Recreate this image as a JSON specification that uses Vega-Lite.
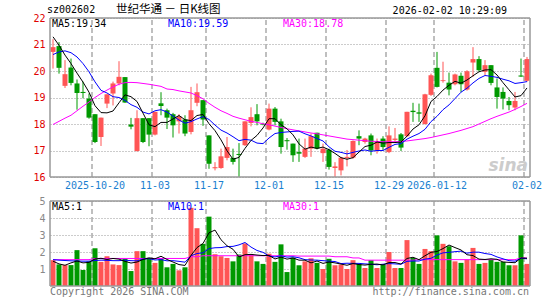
{
"$schema":"https://vega.github.io/schema/vega-lite/v6.json",
"width":480,"height":268,
"autosize":{"type":"none"},
"padding":{"left":50,"top":18,"right":15,"bottom":14},
"background":"white",
"config":{"view":{"stroke":null},"text":{"font":"DejaVu Sans Mono","fontSize":10}},
"data":{"values":[
{"d":"2025-10-09","o":20.72,"h":21.2,"l":20.09,"c":20.9,"v":1.52,"m5":21.29,"m10":20.62,"m30":17.98,"vm5":1.46,"vm10":1.55,"vm30":1.55},
{"d":"2025-10-10","o":20.94,"h":21.09,"l":19.9,"c":20.12,"v":1.27,"m5":20.97,"m10":20.72,"m30":18.1,"vm5":1.3,"vm10":1.52,"vm30":1.55},
{"d":"2025-10-13","o":19.44,"h":20.41,"l":19.36,"c":19.88,"v":1.23,"m5":20.6,"m10":20.76,"m30":18.22,"vm5":1.22,"vm10":1.5,"vm30":1.55},
{"d":"2025-10-14","o":20.13,"h":20.47,"l":19.46,"c":19.55,"v":1.23,"m5":20.28,"m10":20.69,"m30":18.33,"vm5":1.36,"vm10":1.48,"vm30":1.55},
{"d":"2025-10-15","o":19.53,"h":19.68,"l":18.54,"c":19.17,"v":2.11,"m5":19.92,"m10":20.53,"m30":18.5,"vm5":1.47,"vm10":1.47,"vm30":1.55},
{"d":"2025-10-16","o":19.21,"h":19.6,"l":18.97,"c":19.17,"v":0.94,"m5":19.58,"m10":20.28,"m30":18.67,"vm5":1.36,"vm10":1.46,"vm30":1.55},
{"d":"2025-10-17","o":18.96,"h":19.15,"l":18.2,"c":18.24,"v":1.45,"m5":19.2,"m10":19.97,"m30":18.83,"vm5":1.39,"vm10":1.46,"vm30":1.55},
{"d":"2025-10-20","o":18.37,"h":18.37,"l":17.28,"c":17.32,"v":2.22,"m5":18.69,"m10":19.59,"m30":19.0,"vm5":1.59,"vm10":1.5,"vm30":1.62},
{"d":"2025-10-21","o":17.51,"h":18.24,"l":17.17,"c":18.24,"v":1.42,"m5":18.43,"m10":19.27,"m30":19.15,"vm5":1.63,"vm10":1.52,"vm30":1.62},
{"d":"2025-10-22","o":18.77,"h":19.12,"l":18.6,"c":19.12,"v":1.75,"m5":18.42,"m10":19.17,"m30":19.28,"vm5":1.56,"vm10":1.51,"vm30":1.62},
{"d":"2025-10-23","o":19.15,"h":19.6,"l":18.7,"c":19.53,"v":1.27,"m5":18.49,"m10":19.03,"m30":19.4,"vm5":1.62,"vm10":1.49,"vm30":1.62},
{"d":"2025-10-24","o":19.53,"h":20.37,"l":19.46,"c":19.78,"v":1.23,"m5":18.8,"m10":19.0,"m30":19.5,"vm5":1.58,"vm10":1.49,"vm30":1.62},
{"d":"2025-10-27","o":19.77,"h":19.77,"l":18.8,"c":18.81,"v":1.6,"m5":19.1,"m10":18.89,"m30":19.56,"vm5":1.45,"vm10":1.52,"vm30":1.62},
{"d":"2025-10-28","o":17.98,"h":18.23,"l":17.8,"c":17.9,"v":0.88,"m5":19.03,"m10":18.73,"m30":19.57,"vm5":1.35,"vm10":1.49,"vm30":1.62},
{"d":"2025-10-29","o":16.98,"h":18.52,"l":16.96,"c":18.22,"v":2.05,"m5":18.85,"m10":18.63,"m30":19.56,"vm5":1.41,"vm10":1.48,"vm30":1.62},
{"d":"2025-10-30","o":18.22,"h":18.22,"l":17.28,"c":17.32,"v":2.05,"m5":18.41,"m10":18.45,"m30":19.53,"vm5":1.56,"vm10":1.59,"vm30":1.62},
{"d":"2025-10-31","o":18.22,"h":18.22,"l":17.16,"c":17.6,"v":1.66,"m5":17.97,"m10":18.38,"m30":19.5,"vm5":1.65,"vm10":1.61,"vm30":1.62},
{"d":"2025-11-03","o":17.6,"h":18.46,"l":17.57,"c":18.46,"v":1.36,"m5":17.9,"m10":18.5,"m30":19.46,"vm5":1.6,"vm10":1.53,"vm30":1.62},
{"d":"2025-11-04","o":18.78,"h":19.2,"l":18.33,"c":18.68,"v":1.62,"m5":18.06,"m10":18.54,"m30":19.42,"vm5":1.75,"vm10":1.55,"vm30":1.62},
{"d":"2025-11-05","o":18.52,"h":18.58,"l":17.81,"c":18.24,"v":1.1,"m5":18.06,"m10":18.45,"m30":19.32,"vm5":1.56,"vm10":1.48,"vm30":1.62},
{"d":"2025-11-06","o":18.37,"h":18.42,"l":17.49,"c":17.95,"v":1.3,"m5":18.19,"m10":18.3,"m30":19.3,"vm5":1.41,"vm10":1.49,"vm30":1.62},
{"d":"2025-11-07","o":18.1,"h":18.37,"l":17.64,"c":18.29,"v":0.92,"m5":18.32,"m10":18.15,"m30":19.25,"vm5":1.26,"vm10":1.45,"vm30":1.62},
{"d":"2025-11-10","o":18.17,"h":18.33,"l":17.54,"c":17.64,"v":1.1,"m5":18.16,"m10":18.03,"m30":19.21,"vm5":1.21,"vm10":1.4,"vm30":1.62},
{"d":"2025-11-11","o":17.7,"h":19.4,"l":17.61,"c":18.52,"v":4.6,"m5":18.13,"m10":18.09,"m30":19.17,"vm5":1.8,"vm10":1.78,"vm30":1.72},
{"d":"2025-11-12","o":18.8,"h":19.53,"l":18.67,"c":19.2,"v":3.4,"m5":18.32,"m10":18.19,"m30":19.07,"vm5":2.26,"vm10":1.91,"vm30":1.72},
{"d":"2025-11-13","o":18.9,"h":18.9,"l":17.93,"c":18.17,"v":2.48,"m5":18.36,"m10":18.28,"m30":18.95,"vm5":2.5,"vm10":1.95,"vm30":1.78},
{"d":"2025-11-17","o":17.57,"h":17.57,"l":16.31,"c":16.5,"v":4.08,"m5":18.01,"m10":18.17,"m30":18.78,"vm5":3.13,"vm10":2.2,"vm30":1.78},
{"d":"2025-11-18","o":16.33,"h":16.56,"l":16.25,"c":16.37,"v":1.87,"m5":17.75,"m10":17.96,"m30":18.63,"vm5":3.29,"vm10":2.25,"vm30":1.78},
{"d":"2025-11-19","o":16.34,"h":17.07,"l":16.31,"c":16.78,"v":1.75,"m5":17.4,"m10":17.77,"m30":18.5,"vm5":2.72,"vm10":2.26,"vm30":1.78},
{"d":"2025-11-20","o":16.72,"h":17.51,"l":16.63,"c":17.13,"v":1.65,"m5":16.99,"m10":17.66,"m30":18.4,"vm5":2.37,"vm10":2.32,"vm30":1.78},
{"d":"2025-11-21","o":16.72,"h":17.07,"l":16.47,"c":16.57,"v":1.45,"m5":16.67,"m10":17.52,"m30":18.29,"vm5":2.16,"vm10":2.33,"vm30":1.78},
{"d":"2025-11-24","o":16.87,"h":17.28,"l":16.0,"c":16.83,"v":1.85,"m5":16.74,"m10":17.37,"m30":18.22,"vm5":1.71,"vm10":2.42,"vm30":1.78},
{"d":"2025-11-25","o":17.2,"h":18.1,"l":17.17,"c":18.1,"v":2.5,"m5":17.08,"m10":17.42,"m30":18.16,"vm5":1.84,"vm10":2.56,"vm30":1.78},
{"d":"2025-11-26","o":18.04,"h":18.63,"l":17.91,"c":18.26,"v":1.86,"m5":17.38,"m10":17.39,"m30":18.1,"vm5":1.86,"vm10":2.29,"vm30":1.78},
{"d":"2025-11-27","o":18.37,"h":18.75,"l":17.95,"c":18.1,"v":1.45,"m5":17.57,"m10":17.28,"m30":18.06,"vm5":1.82,"vm10":2.09,"vm30":1.78},
{"d":"2025-11-28","o":18.0,"h":18.05,"l":17.95,"c":17.98,"v":1.3,"m5":17.85,"m10":17.26,"m30":18.01,"vm5":1.79,"vm10":1.98,"vm30":1.78},
{"d":"2025-12-01","o":17.79,"h":18.77,"l":17.76,"c":18.58,"v":1.9,"m5":18.2,"m10":17.47,"m30":17.97,"vm5":1.8,"vm10":1.76,"vm30":1.78},
{"d":"2025-12-02","o":18.58,"h":18.64,"l":17.95,"c":18.08,"v":1.42,"m5":18.2,"m10":17.64,"m30":17.92,"vm5":1.59,"vm10":1.71,"vm30":1.78},
{"d":"2025-12-03","o":18.1,"h":18.2,"l":16.88,"c":17.13,"v":2.45,"m5":17.97,"m10":17.68,"m30":17.87,"vm5":1.7,"vm10":1.78,"vm30":1.78},
{"d":"2025-12-04","o":17.39,"h":17.47,"l":17.03,"c":17.35,"v":0.82,"m5":17.82,"m10":17.7,"m30":17.82,"vm5":1.58,"vm10":1.7,"vm30":1.78},
{"d":"2025-12-05","o":17.26,"h":17.26,"l":16.57,"c":16.82,"v":1.67,"m5":17.59,"m10":17.72,"m30":17.78,"vm5":1.65,"vm10":1.72,"vm30":1.78},
{"d":"2025-12-08","o":16.94,"h":17.45,"l":16.57,"c":16.88,"v":1.22,"m5":17.25,"m10":17.73,"m30":17.74,"vm5":1.52,"vm10":1.66,"vm30":1.76},
{"d":"2025-12-09","o":16.76,"h":17.45,"l":16.72,"c":17.07,"v":1.45,"m5":17.05,"m10":17.63,"m30":17.7,"vm5":1.52,"vm10":1.55,"vm30":1.76},
{"d":"2025-12-10","o":17.07,"h":17.64,"l":16.76,"c":17.54,"v":1.63,"m5":17.13,"m10":17.55,"m30":17.66,"vm5":1.36,"vm10":1.53,"vm30":1.76},
{"d":"2025-12-11","o":17.67,"h":17.67,"l":17.04,"c":17.07,"v":1.36,"m5":17.08,"m10":17.45,"m30":17.63,"vm5":1.47,"vm10":1.52,"vm30":1.76},
{"d":"2025-12-12","o":16.9,"h":17.26,"l":16.57,"c":17.07,"v":1.0,"m5":17.13,"m10":17.36,"m30":17.59,"vm5":1.33,"vm10":1.49,"vm30":1.76},
{"d":"2025-12-15","o":17.03,"h":17.07,"l":16.28,"c":16.38,"v":1.6,"m5":17.03,"m10":17.14,"m30":17.55,"vm5":1.41,"vm10":1.46,"vm30":1.76},
{"d":"2025-12-16","o":16.34,"h":16.56,"l":16.0,"c":16.4,"v":1.22,"m5":16.89,"m10":16.97,"m30":17.51,"vm5":1.36,"vm10":1.44,"vm30":1.72},
{"d":"2025-12-17","o":16.25,"h":16.76,"l":16.06,"c":16.73,"v":1.26,"m5":16.73,"m10":16.93,"m30":17.47,"vm5":1.29,"vm10":1.32,"vm30":1.72},
{"d":"2025-12-18","o":16.72,"h":17.02,"l":16.4,"c":16.76,"v":1.0,"m5":16.67,"m10":16.87,"m30":17.43,"vm5":1.22,"vm10":1.34,"vm30":1.72},
{"d":"2025-12-19","o":16.73,"h":17.38,"l":16.69,"c":17.36,"v":1.52,"m5":16.73,"m10":16.93,"m30":17.41,"vm5":1.32,"vm10":1.33,"vm30":1.65},
{"d":"2025-12-22","o":17.54,"h":17.76,"l":17.2,"c":17.45,"v":1.3,"m5":16.94,"m10":16.98,"m30":17.39,"vm5":1.26,"vm10":1.33,"vm30":1.65},
{"d":"2025-12-23","o":17.32,"h":17.48,"l":17.26,"c":17.45,"v":1.06,"m5":17.15,"m10":17.02,"m30":17.37,"vm5":1.23,"vm10":1.3,"vm30":1.52},
{"d":"2025-12-24","o":17.57,"h":17.64,"l":16.82,"c":17.0,"v":1.52,"m5":17.2,"m10":16.97,"m30":17.35,"vm5":1.28,"vm10":1.28,"vm30":1.52},
{"d":"2025-12-25","o":17.0,"h":17.45,"l":16.88,"c":17.35,"v":1.06,"m5":17.32,"m10":17.0,"m30":17.34,"vm5":1.29,"vm10":1.25,"vm30":1.52},
{"d":"2025-12-26","o":17.45,"h":17.54,"l":17.0,"c":17.13,"v":1.26,"m5":17.28,"m10":17.0,"m30":17.33,"vm5":1.24,"vm10":1.28,"vm30":1.52},
{"d":"2025-12-29","o":16.94,"h":17.91,"l":16.9,"c":17.57,"v":2.0,"m5":17.3,"m10":17.12,"m30":17.33,"vm5":1.38,"vm10":1.32,"vm30":1.52},
{"d":"2025-12-30","o":17.4,"h":17.85,"l":17.32,"c":17.45,"v":1.06,"m5":17.3,"m10":17.23,"m30":17.33,"vm5":1.38,"vm10":1.3,"vm30":1.52},
{"d":"2025-12-31","o":17.61,"h":17.66,"l":16.98,"c":17.11,"v":1.06,"m5":17.32,"m10":17.26,"m30":17.34,"vm5":1.29,"vm10":1.28,"vm30":1.52},
{"d":"2026-01-05","o":17.54,"h":18.46,"l":17.51,"c":18.46,"v":2.7,"m5":17.54,"m10":17.43,"m30":17.36,"vm5":1.62,"vm10":1.45,"vm30":1.52},
{"d":"2026-01-06","o":18.5,"h":18.8,"l":18.08,"c":18.45,"v":1.65,"m5":17.81,"m10":17.54,"m30":17.39,"vm5":1.69,"vm10":1.47,"vm30":1.52},
{"d":"2026-01-07","o":18.44,"h":18.77,"l":18.08,"c":18.39,"v":1.3,"m5":17.97,"m10":17.64,"m30":17.42,"vm5":1.55,"vm10":1.47,"vm30":1.55},
{"d":"2026-01-08","o":18.0,"h":19.14,"l":17.98,"c":19.12,"v":2.18,"m5":18.31,"m10":17.8,"m30":17.45,"vm5":1.78,"vm10":1.58,"vm30":1.55},
{"d":"2026-01-09","o":19.1,"h":19.9,"l":19.06,"c":19.84,"v":2.05,"m5":18.85,"m10":18.09,"m30":17.49,"vm5":1.98,"vm10":1.63,"vm30":1.55},
{"d":"2026-01-12","o":20.12,"h":20.72,"l":19.38,"c":19.4,"v":2.98,"m5":19.04,"m10":18.29,"m30":17.54,"vm5":2.03,"vm10":1.82,"vm30":1.55},
{"d":"2026-01-13","o":19.62,"h":20.35,"l":19.56,"c":19.65,"v":2.48,"m5":19.28,"m10":18.54,"m30":17.59,"vm5":2.2,"vm10":1.95,"vm30":1.55},
{"d":"2026-01-14","o":19.56,"h":19.94,"l":19.08,"c":19.3,"v":2.34,"m5":19.46,"m10":18.72,"m30":17.64,"vm5":2.41,"vm10":1.98,"vm30":1.55},
{"d":"2026-01-15","o":19.5,"h":19.9,"l":19.46,"c":19.87,"v":1.45,"m5":19.61,"m10":18.96,"m30":17.7,"vm5":2.26,"vm10":2.02,"vm30":1.55},
{"d":"2026-01-16","o":19.82,"h":19.94,"l":19.21,"c":19.5,"v":1.36,"m5":19.54,"m10":19.2,"m30":17.76,"vm5":2.12,"vm10":2.05,"vm30":1.55},
{"d":"2026-01-19","o":19.3,"h":20.03,"l":19.26,"c":19.99,"v":1.55,"m5":19.66,"m10":19.35,"m30":17.83,"vm5":1.84,"vm10":1.93,"vm30":1.55},
{"d":"2026-01-20","o":20.32,"h":20.9,"l":19.78,"c":20.45,"v":2.24,"m5":19.82,"m10":19.55,"m30":17.9,"vm5":1.79,"vm10":1.99,"vm30":1.55},
{"d":"2026-01-21","o":20.45,"h":20.56,"l":19.97,"c":20.03,"v":1.3,"m5":19.97,"m10":19.72,"m30":18.0,"vm5":1.58,"vm10":1.99,"vm30":1.55},
{"d":"2026-01-22","o":19.97,"h":20.41,"l":19.84,"c":20.22,"v":1.36,"m5":20.04,"m10":19.83,"m30":18.1,"vm5":1.56,"vm10":1.91,"vm30":1.55},
{"d":"2026-01-23","o":20.22,"h":20.22,"l":19.46,"c":19.55,"v":1.55,"m5":20.05,"m10":19.8,"m30":18.2,"vm5":1.6,"vm10":1.86,"vm30":1.55},
{"d":"2026-01-26","o":19.38,"h":19.72,"l":18.58,"c":19.02,"v":1.42,"m5":19.85,"m10":19.76,"m30":18.29,"vm5":1.57,"vm10":1.71,"vm30":1.55},
{"d":"2026-01-27","o":19.21,"h":19.38,"l":18.55,"c":18.96,"v":1.42,"m5":19.56,"m10":19.69,"m30":18.37,"vm5":1.41,"vm10":1.6,"vm30":1.55},
{"d":"2026-01-28","o":18.87,"h":19.02,"l":18.52,"c":18.71,"v":1.22,"m5":19.29,"m10":19.63,"m30":18.45,"vm5":1.39,"vm10":1.49,"vm30":1.55},
{"d":"2026-01-29","o":18.62,"h":19.21,"l":18.52,"c":18.87,"v":1.22,"m5":19.02,"m10":19.53,"m30":18.55,"vm5":1.37,"vm10":1.46,"vm30":1.55},
{"d":"2026-01-30","o":19.83,"h":20.47,"l":19.78,"c":19.79,"v":2.98,"m5":19.07,"m10":19.56,"m30":18.66,"vm5":1.65,"vm10":1.63,"vm30":1.65},
{"d":"2026-02-02","o":19.63,"h":20.53,"l":19.59,"c":20.45,"v":1.3,"m5":19.36,"m10":19.6,"m30":18.78,"vm5":1.63,"vm10":1.6,"vm30":1.65}
]},
"layer":[
{"layer":[
 {"transform":[{"filter":{"field":"d","oneOf":["2025-10-20","2025-11-03","2025-11-17","2025-12-01","2025-12-15","2025-12-29","2026-01-12","2026-02-02"]}}],
  "mark":{"type":"rule","color":"#aaaaaa","strokeWidth":1.5,"strokeDash":[5,3],"xOffset":-3},
  "encoding":{"x":{"field":"d","type":"ordinal","title":null},"y":{"datum":16,"type":"quantitative"},"y2":{"datum":22}}},
 {"mark":{"type":"rule","strokeWidth":1},
  "encoding":{
   "x":{"field":"d","type":"ordinal","title":null,"scale":{"type":"band","paddingInner":0,"paddingOuter":0},
        "axis":{"values":["2025-10-20","2025-11-03","2025-11-17","2025-12-01","2025-12-15","2025-12-29","2026-01-12","2026-02-02"],
                "bandPosition":0,"orient":"bottom","offset":-109,"domain":false,"ticks":false,"tickSize":0,"grid":false,"labelAngle":0,
                "labelAlign":"center","labelBaseline":"top",
                "labelColor":"#1a7fd0","labelFont":"DejaVu Sans Mono","labelFontSize":10,"labelPadding":3,"labelOverlap":false,
                "labelExpr":"datum.value == '2025-10-20' || datum.value == '2026-01-12' ? datum.value : slice(datum.value, 5)","title":null}},
   "y":{"field":"l","type":"quantitative","title":null,"scale":{"domain":[16,22],"range":[159,0],"nice":false,"zero":false},
        "axis":{"orient":"left","values":[16,17,18,19,20,21,22],"domain":false,"ticks":false,"labelColor":"#e00000","labelFont":"DejaVu Sans Mono","labelFontSize":10,"labelPadding":5,"labelOverlap":false,"labelAlign":"right","labelBaseline":"middle","grid":true,"gridColor":"#999999","gridDash":[1,2],"gridWidth":1,"title":null}},
   "y2":{"field":"h"},
   "color":{"condition":{"test":"datum.c >= datum.o","value":"#ff5555"},"value":"#009900"}}},
 {"mark":{"type":"bar","size":5},
  "encoding":{"x":{"field":"d","type":"ordinal","title":null},"y":{"field":"o","type":"quantitative","title":null},"y2":{"field":"c"},
   "color":{"condition":{"test":"datum.c >= datum.o","value":"#ff5555"},"value":"#009900"}}},
 {"mark":{"type":"line","color":"#ff00ff","strokeWidth":1},"encoding":{"x":{"field":"d","type":"ordinal","title":null},"y":{"field":"m30","type":"quantitative","title":null}}},
 {"mark":{"type":"line","color":"#0000ff","strokeWidth":1},"encoding":{"x":{"field":"d","type":"ordinal","title":null},"y":{"field":"m10","type":"quantitative","title":null}}},
 {"mark":{"type":"line","color":"#000000","strokeWidth":1},"encoding":{"x":{"field":"d","type":"ordinal","title":null},"y":{"field":"m5","type":"quantitative","title":null}}},
 {"data":{"values":[{}]},"mark":{"type":"rule","color":"#999999","strokeWidth":1.5},"encoding":{"y":{"datum":22,"type":"quantitative"}}},
 {"data":{"values":[{}]},"mark":{"type":"rule","color":"#999999","strokeWidth":1.5},"encoding":{"y":{"datum":16,"type":"quantitative"}}},
 {"data":{"values":[{}]},"mark":{"type":"rule","color":"#999999","strokeWidth":1.5,"xOffset":-3},"encoding":{"x":{"datum":"2025-10-09","type":"ordinal"},"y":{"datum":16,"type":"quantitative"},"y2":{"datum":22}}},
 {"data":{"values":[{}]},"mark":{"type":"rule","color":"#999999","strokeWidth":1.5,"xOffset":3},"encoding":{"x":{"datum":"2026-02-02","type":"ordinal"},"y":{"datum":16,"type":"quantitative"},"y2":{"datum":22}}},
 {"data":{"values":[{}]},"mark":{"type":"text","text":"sz002602","align":"left","baseline":"middle","font":"DejaVu Sans Mono","fontSize":10,"color":"#000000","dx":-6},
  "encoding":{"x":{"datum":"2025-10-09","type":"ordinal"},"y":{"datum":22.3,"type":"quantitative"}}},
 {"data":{"values":[{}]},"mark":{"type":"text","text":"世纪华通  －  日K线图","align":"left","baseline":"middle","font":"Noto Sans CJK SC","fontSize":11.5,"color":"#000000","dx":-3},
  "encoding":{"x":{"datum":"2025-10-24","type":"ordinal"},"y":{"datum":22.3,"type":"quantitative"}}},
 {"data":{"values":[{}]},"mark":{"type":"text","text":"2026-02-02 10:29:09","align":"right","baseline":"middle","font":"DejaVu Sans Mono","fontSize":10,"color":"#000000","dx":-2},
  "encoding":{"x":{"datum":"2026-01-28","type":"ordinal"},"y":{"datum":22.28,"type":"quantitative"}}},
 {"data":{"values":[{}]},"mark":{"type":"text","text":"MA5:19.34","align":"left","baseline":"middle","font":"DejaVu Sans Mono","fontSize":10,"color":"#000000","dx":-1},
  "encoding":{"x":{"datum":"2025-10-09","type":"ordinal"},"y":{"datum":21.78,"type":"quantitative"}}},
 {"data":{"values":[{}]},"mark":{"type":"text","text":"MA10:19.59","align":"left","baseline":"middle","font":"DejaVu Sans Mono","fontSize":10,"color":"#0000ff","dx":-5},
  "encoding":{"x":{"datum":"2025-11-06","type":"ordinal"},"y":{"datum":21.78,"type":"quantitative"}}},
 {"data":{"values":[{}]},"mark":{"type":"text","text":"MA30:18.78","align":"left","baseline":"middle","font":"DejaVu Sans Mono","fontSize":10,"color":"#ff00ff","dx":-4},
  "encoding":{"x":{"datum":"2025-12-04","type":"ordinal"},"y":{"datum":21.78,"type":"quantitative"}}},
 {"data":{"values":[{}]},"mark":{"type":"text","text":"sina","align":"right","baseline":"middle","font":"DejaVu Sans","fontSize":17,"fontStyle":"italic","fontWeight":"bold","color":"#cccccc","dx":1},
  "encoding":{"x":{"datum":"2026-02-02","type":"ordinal"},"y":{"datum":16.4,"type":"quantitative"}}}
]},
{"layer":[
 {"transform":[{"filter":{"field":"d","oneOf":["2025-10-20","2025-11-03","2025-11-17","2025-12-01","2025-12-15","2025-12-29","2026-01-12","2026-02-02"]}}],
  "mark":{"type":"rule","color":"#aaaaaa","strokeWidth":1.5,"strokeDash":[5,3],"xOffset":-3},
  "encoding":{"x":{"field":"d","type":"ordinal","title":null},"y":{"datum":0,"type":"quantitative"},"y2":{"datum":5}}},
 {"mark":{"type":"bar","size":5},
  "encoding":{"x":{"field":"d","type":"ordinal","title":null},
   "y":{"field":"v","type":"quantitative","title":"x百万","scale":{"domain":[0,5],"range":[268,183],"nice":false},
        "axis":{"orient":"left","values":[1,2,3,4,5],"domain":false,"ticks":false,"labelColor":"#888888","labelFont":"DejaVu Sans Mono","labelFontSize":10,"labelPadding":5,"labelOverlap":false,"labelAlign":"right","labelBaseline":"middle","grid":true,"gridColor":"#999999","gridDash":[1,2],"gridWidth":1,
                "title":"x百万","titleAngle":0,"titleX":-32,"titleY":267,"titleAlign":"left","titleBaseline":"middle","titleColor":"#aaaaaa","titleFont":"Noto Sans CJK SC","titleFontSize":11,"titleFontWeight":"normal"}},
   "color":{"condition":{"test":"datum.c >= datum.o","value":"#ff5555"},"value":"#009900"}}},
 {"mark":{"type":"line","color":"#ff00ff","strokeWidth":1},"encoding":{"x":{"field":"d","type":"ordinal","title":null},"y":{"field":"vm30","type":"quantitative","title":null}}},
 {"mark":{"type":"line","color":"#0000ff","strokeWidth":1},"encoding":{"x":{"field":"d","type":"ordinal","title":null},"y":{"field":"vm10","type":"quantitative","title":null}}},
 {"mark":{"type":"line","color":"#000000","strokeWidth":1},"encoding":{"x":{"field":"d","type":"ordinal","title":null},"y":{"field":"vm5","type":"quantitative","title":null}}},
 {"data":{"values":[{}]},"mark":{"type":"rule","color":"#999999","strokeWidth":1.5},"encoding":{"y":{"datum":5,"type":"quantitative"}}},
 {"data":{"values":[{}]},"mark":{"type":"rule","color":"#999999","strokeWidth":1.5},"encoding":{"y":{"datum":0,"type":"quantitative"}}},
 {"data":{"values":[{}]},"mark":{"type":"rule","color":"#999999","strokeWidth":1.5,"xOffset":-3},"encoding":{"x":{"datum":"2025-10-09","type":"ordinal"},"y":{"datum":0,"type":"quantitative"},"y2":{"datum":5}}},
 {"data":{"values":[{}]},"mark":{"type":"rule","color":"#999999","strokeWidth":1.5,"xOffset":3},"encoding":{"x":{"datum":"2026-02-02","type":"ordinal"},"y":{"datum":0,"type":"quantitative"},"y2":{"datum":5}}},
 {"data":{"values":[{}]},"mark":{"type":"text","text":"MA5:1","align":"left","baseline":"middle","font":"DejaVu Sans Mono","fontSize":10,"color":"#000000","dx":-1},
  "encoding":{"x":{"datum":"2025-10-09","type":"ordinal"},"y":{"datum":4.65,"type":"quantitative"}}},
 {"data":{"values":[{}]},"mark":{"type":"text","text":"MA10:1","align":"left","baseline":"middle","font":"DejaVu Sans Mono","fontSize":10,"color":"#0000ff","dx":-5},
  "encoding":{"x":{"datum":"2025-11-06","type":"ordinal"},"y":{"datum":4.65,"type":"quantitative"}}},
 {"data":{"values":[{}]},"mark":{"type":"text","text":"MA30:1","align":"left","baseline":"middle","font":"DejaVu Sans Mono","fontSize":10,"color":"#ff00ff","dx":-4},
  "encoding":{"x":{"datum":"2025-12-04","type":"ordinal"},"y":{"datum":4.65,"type":"quantitative"}}},
 {"data":{"values":[{}]},"mark":{"type":"text","text":"Copyright 2026 SINA.COM","align":"left","baseline":"middle","font":"DejaVu Sans Mono","fontSize":10,"color":"#777777","dx":-3},
  "encoding":{"x":{"datum":"2025-10-09","type":"ordinal"},"y":{"datum":-0.38,"type":"quantitative"}}},
 {"data":{"values":[{}]},"mark":{"type":"text","text":"http://finance.sina.com.cn","align":"right","baseline":"middle","font":"DejaVu Sans Mono","fontSize":10,"color":"#777777","dx":2},
  "encoding":{"x":{"datum":"2026-02-02","type":"ordinal"},"y":{"datum":-0.38,"type":"quantitative"}}}
]}
],
"resolve":{"scale":{"y":"independent"},"axis":{"y":"independent"}}
}
